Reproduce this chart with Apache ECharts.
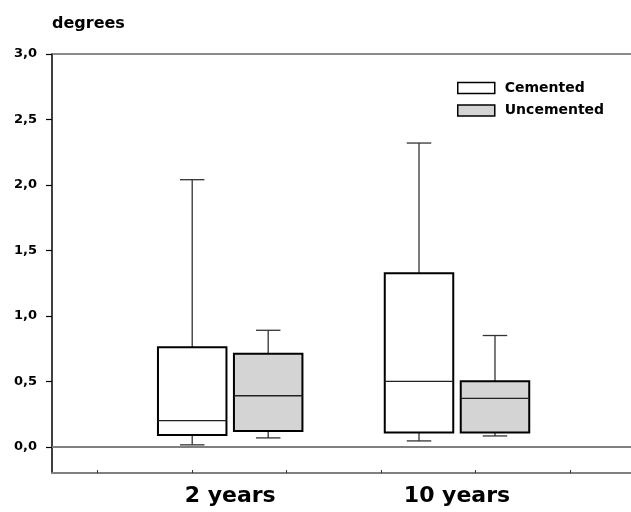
<!DOCTYPE html>
<html>
<head>
<meta charset="utf-8">
<script src="https://cdn.jsdelivr.net/npm/echarts@6/dist/echarts.min.js"></script>
<style>html,body{margin:0;padding:0;background:#fff;}#c{width:631px;height:512px;}</style>
</head>
<body>
<div id="c"></div>
<script>
const categories = ['2 years', '10 years'];
const seriesNames = ['Cemented', 'Uncemented'];
const cementedMin = [0.015, 0.045];
const cementedQ1 = [0.09, 0.11];
const cementedMedian = [0.20, 0.50];
const cementedQ3 = [0.76, 1.325];
const cementedMax = [2.04, 2.32];
const uncementedMin = [0.068, 0.083];
const uncementedQ1 = [0.12, 0.11];
const uncementedMedian = [0.39, 0.37];
const uncementedQ3 = [0.71, 0.50];
const uncementedMax = [0.89, 0.85];
const yTicks = [0, 0.5, 1.0, 1.5, 2.0, 2.5, 3.0];
const xTicks = [0, 1, 2, 3, 4, 5];

const FONT = 'DejaVu Sans';
const fills = ['#ffffff', '#d3d4d3'];

function toRows(mins, q1s, meds, q3s, maxs) {
  return categories.map((c, i) => [i, mins[i], q1s[i], meds[i], q3s[i], maxs[i]]);
}

function makeRender(offsetFrac, fill) {
  return function (params, api) {
    const cat = api.value(0);
    const band = api.size([1, 0])[0];
    const base = api.coord([cat, 0]);
    const cx = base[0] + offsetFrac * band;
    const hw = 0.151 * band;
    const cap = 0.054 * band;
    const y = k => api.coord([cat, api.value(k)])[1];
    const yMin = y(1), yQ1 = y(2), yMed = y(3), yQ3 = y(4), yMax = y(5);
    const wStyle = { stroke: '#333', lineWidth: 1.3 };
    return {
      type: 'group',
      children: [
        { type: 'line', shape: { x1: cx, y1: yQ3, x2: cx, y2: yMax }, style: wStyle },
        { type: 'line', shape: { x1: cx - cap, y1: yMax, x2: cx + cap, y2: yMax }, style: wStyle },
        { type: 'line', shape: { x1: cx, y1: yQ1, x2: cx, y2: yMin }, style: wStyle },
        { type: 'line', shape: { x1: cx - cap, y1: yMin, x2: cx + cap, y2: yMin }, style: wStyle },
        { type: 'rect', shape: { x: cx - hw, y: yQ3, width: 2 * hw, height: yQ1 - yQ3 },
          style: { fill: fill, stroke: '#000', lineWidth: 2 } },
        { type: 'line', shape: { x1: cx - hw, y1: yMed, x2: cx + hw, y2: yMed }, style: { stroke: '#222', lineWidth: 1.4 } }
      ]
    };
  };
}

const chart = echarts.init(document.getElementById('c'), null, { renderer: 'canvas' });
const fmt = v => v.toFixed(1).replace('.', ',');

chart.setOption({
  animation: false,
  backgroundColor: '#fff',
  grid: [
    { left: 52, right: 0, top: 54, bottom: 39 },
    { left: 116.8, width: 453.6, top: 54, bottom: 39 }
  ],
  legend: {
    orient: 'vertical',
    left: 457,
    top: 81,
    padding: 0,
    itemWidth: 37,
    itemHeight: 11,
    itemGap: 8.5,
    icon: 'rect',
    textStyle: { fontFamily: FONT, fontWeight: 'bold', fontSize: 14, color: '#000', padding: [0, 0, 0, 5] },
    data: [
      { name: seriesNames[0], itemStyle: { color: fills[0], borderColor: '#000', borderWidth: 1.5 } },
      { name: seriesNames[1], itemStyle: { color: fills[1], borderColor: '#000', borderWidth: 1.5 } }
    ]
  },
  xAxis: [
    {
      type: 'value', gridIndex: 0, min: -0.484, max: 5.645, position: 'bottom',
      axisLine: { show: true, onZero: false, lineStyle: { color: '#808080', width: 2 } },
      axisTick: { show: true, inside: true, length: 3, customValues: xTicks, lineStyle: { color: '#333', width: 1 } },
      axisLabel: { show: false },
      splitLine: { show: false }
    },
    {
      type: 'category', gridIndex: 1, data: categories, position: 'bottom',
      axisLine: { show: false }, axisTick: { show: false }, splitLine: { show: false },
      axisLabel: { fontFamily: FONT, fontWeight: 'bold', fontSize: 22, color: '#000', margin: 12 }
    },
    {
      type: 'value', gridIndex: 0, min: -0.484, max: 5.645, position: 'top',
      axisLine: { show: true, onZero: false, lineStyle: { color: '#666', width: 1.5 } },
      axisTick: { show: false }, axisLabel: { show: false }, splitLine: { show: false }
    }
  ],
  yAxis: [
    {
      type: 'value', gridIndex: 0, min: -0.2, max: 3.0,
      name: 'degrees', nameLocation: 'end', nameGap: 22,
      nameTextStyle: { fontFamily: FONT, fontWeight: 'bold', fontSize: 16, color: '#000', align: 'left', verticalAlign: 'bottom' },
      axisLine: { show: true, onZero: false, lineStyle: { color: '#000', width: 1.5 } },
      axisTick: { show: true, length: 6, customValues: yTicks, lineStyle: { color: '#000', width: 1.2 } },
      axisLabel: { customValues: yTicks, formatter: fmt, fontFamily: FONT, fontWeight: 'bold', fontSize: 13, color: '#000', margin: 15 },
      splitLine: { show: false }
    },
    {
      type: 'value', gridIndex: 1, min: -0.2, max: 3.0, show: false
    }
  ],
  series: [
    {
      name: seriesNames[0], type: 'custom', xAxisIndex: 1, yAxisIndex: 1,
      itemStyle: { color: fills[0], borderColor: '#000', borderWidth: 1.5 },
      encode: { x: 0, y: [1, 2, 3, 4, 5] },
      renderItem: makeRender(-0.1675, fills[0]),
      data: toRows(cementedMin, cementedQ1, cementedMedian, cementedQ3, cementedMax),
      z: 3
    },
    {
      name: seriesNames[1], type: 'custom', xAxisIndex: 1, yAxisIndex: 1,
      itemStyle: { color: fills[1], borderColor: '#000', borderWidth: 1.5 },
      encode: { x: 0, y: [1, 2, 3, 4, 5] },
      renderItem: makeRender(0.1675, fills[1]),
      data: toRows(uncementedMin, uncementedQ1, uncementedMedian, uncementedQ3, uncementedMax),
      z: 3
    },
    {
      name: 'zero', type: 'line', xAxisIndex: 0, yAxisIndex: 0, data: [],
      markLine: {
        silent: true, symbol: 'none', label: { show: false },
        lineStyle: { color: '#808080', width: 2, type: 'solid' },
        data: [{ yAxis: 0 }]
      },
      z: 1
    }
  ]
});
</script>
</body>
</html>
